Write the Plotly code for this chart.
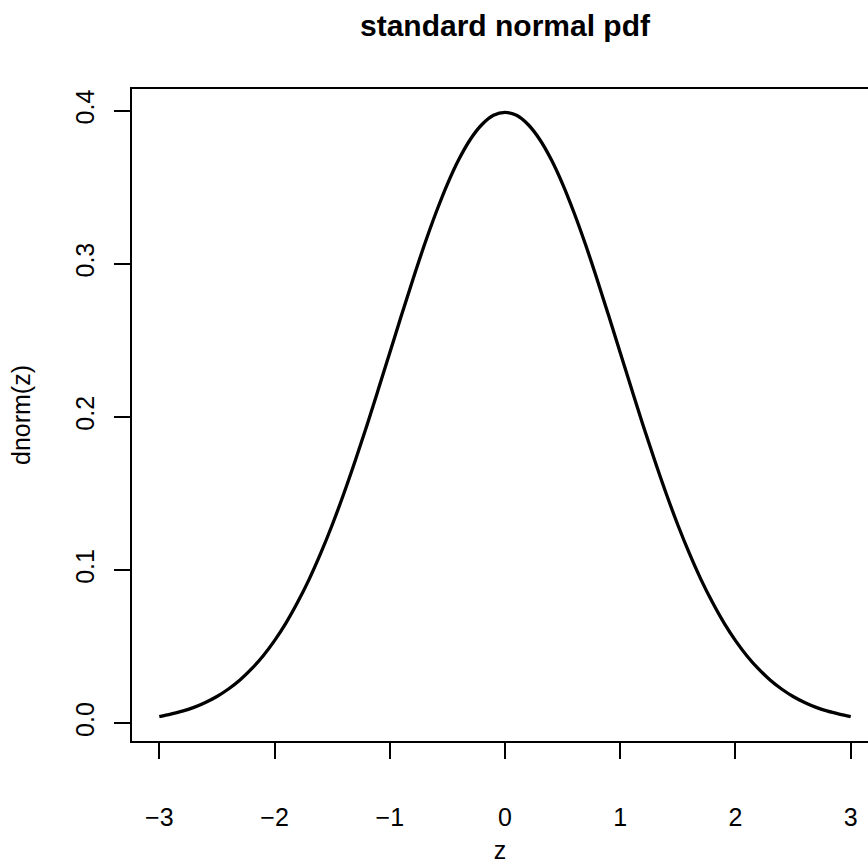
import plotly.graph_objects as go

# values
z_vals = [-3.0, -2.9, -2.8, -2.7, -2.6, -2.5, -2.4, -2.3, -2.2, -2.1,
          -2.0, -1.9, -1.8, -1.7, -1.6, -1.5, -1.4, -1.3, -1.2, -1.1,
          -1.0, -0.9, -0.8, -0.7, -0.6, -0.5, -0.4, -0.3, -0.2, -0.1,
          0.0, 0.1, 0.2, 0.3, 0.4, 0.5, 0.6, 0.7, 0.8, 0.9,
          1.0, 1.1, 1.2, 1.3, 1.4, 1.5, 1.6, 1.7, 1.8, 1.9,
          2.0, 2.1, 2.2, 2.3, 2.4, 2.5, 2.6, 2.7, 2.8, 2.9, 3.0]
density = [0.0044, 0.0060, 0.0079, 0.0104, 0.0136, 0.0175, 0.0224, 0.0283, 0.0355, 0.0440,
           0.0540, 0.0656, 0.0790, 0.0940, 0.1109, 0.1295, 0.1497, 0.1714, 0.1942, 0.2179,
           0.2420, 0.2661, 0.2897, 0.3123, 0.3332, 0.3521, 0.3683, 0.3814, 0.3910, 0.3970,
           0.3989, 0.3970, 0.3910, 0.3814, 0.3683, 0.3521, 0.3332, 0.3123, 0.2897, 0.2661,
           0.2420, 0.2179, 0.1942, 0.1714, 0.1497, 0.1295, 0.1109, 0.0940, 0.0790, 0.0656,
           0.0540, 0.0440, 0.0355, 0.0283, 0.0224, 0.0175, 0.0136, 0.0104, 0.0079, 0.0060, 0.0044]
x_ticks = [-3, -2, -1, 0, 1, 2, 3]
x_ticklabels = ["\u22123", "\u22122", "\u22121", "0", "1", "2", "3"]
y_ticks = [0.0, 0.1, 0.2, 0.3, 0.4]
y_ticklabels = ["0.0", "0.1", "0.2", "0.3", "0.4"]

FONT = "Liberation Sans, Arial, Helvetica, sans-serif"

fig = go.Figure()
fig.add_trace(go.Scatter(x=z_vals, y=density, mode="lines",
                         line=dict(color="black", width=3.3, shape="spline", smoothing=1.0),
                         showlegend=False, hoverinfo="x+y"))

fig.update_layout(
    width=868, height=864,
    margin=dict(l=132, r=0, t=89, b=123, pad=0),
    paper_bgcolor="white", plot_bgcolor="white",
    font=dict(family=FONT, color="black", size=25),
    title=dict(text="<b>standard normal pdf</b>", font=dict(family=FONT, size=30, color="black"),
               x=505 / 868, xref="container", xanchor="center",
               y=1 - 25 / 864, yref="container", yanchor="middle"),
    xaxis=dict(range=[-3.237, 3.150], tickmode="array", tickvals=x_ticks, ticktext=x_ticklabels,
               ticks="outside", ticklen=16, tickwidth=1.5, tickcolor="black",
               showline=True, linecolor="black", linewidth=1.7, mirror=True,
               showgrid=False, zeroline=False, ticklabelstandoff=37,
               tickfont=dict(size=25, family=FONT),
               title=dict(text="z", font=dict(size=25, family=FONT), standoff=16)),
    yaxis=dict(range=[-0.01156, 0.4142], tickmode="array", tickvals=y_ticks, ticktext=y_ticklabels,
               ticks="outside", ticklen=16, tickwidth=1.5, tickcolor="black",
               showline=True, linecolor="black", linewidth=1.7, mirror=False,
               showgrid=False, zeroline=False, tickangle=-90, ticklabelstandoff=10,
               tickfont=dict(size=25, family=FONT),
               title=dict(text="dnorm(z)", font=dict(size=25, family=FONT), standoff=33)),
)

fig.write_html("out.html", config={"displayModeBar": False},
               post_script="document.body.style.margin='0';")
